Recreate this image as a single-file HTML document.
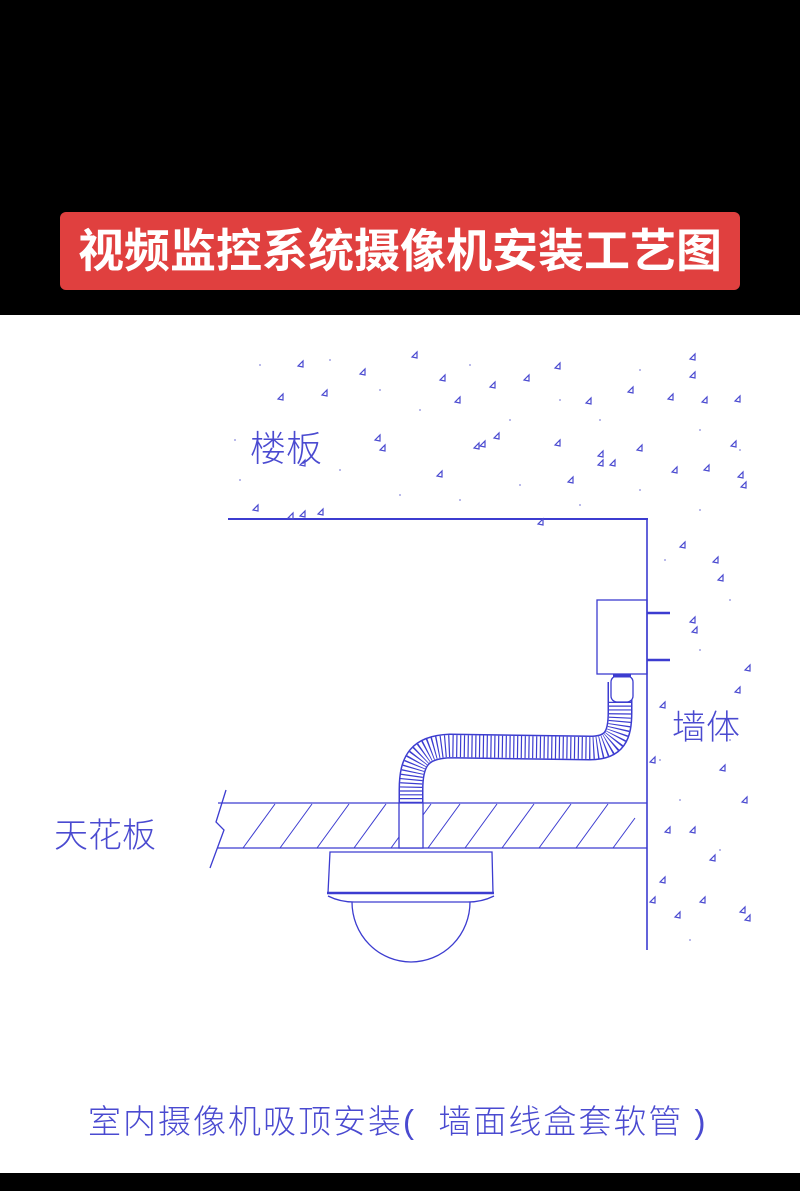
<!DOCTYPE html>
<html><head><meta charset="utf-8">
<style>
html,body{margin:0;padding:0;background:#000;}
#w{position:relative;width:800px;height:1191px;background:#000;overflow:hidden;font-family:"Liberation Sans","Noto Sans CJK SC",sans-serif;}
#ban{position:absolute;left:60px;top:212px;width:680px;height:78px;background:#e0403f;border-radius:6px;color:#fff;font-weight:bold;font-size:46px;line-height:78px;text-align:center;letter-spacing:0px;}
#wh{position:absolute;left:0;top:315px;width:800px;height:858px;background:#fff;}
.t{position:absolute;color:#4a4ad0;font-family:"Liberation Sans","Noto Sans CJK SC",sans-serif;font-weight:300;white-space:nowrap;}
</style></head><body><div id="w">
<div id="ban">视频监控系统摄像机安装工艺图</div>
<div id="wh"></div>
<svg style="position:absolute;left:0;top:0" width="800" height="1191" viewBox="0 0 800 1191">
<defs><path id="tr" d="M0,0 l5,-5 l0,6 z"/></defs>
<g fill="none" stroke="#3c3cd0" stroke-width="1.3">
<line x1="228" y1="519" x2="648" y2="519" stroke-width="2"/>
<line x1="647" y1="519" x2="647" y2="950" stroke-width="1.6"/>
<rect x="597" y="600" width="50" height="74"/>
<line x1="647" y1="613" x2="670" y2="613" stroke-width="2.5"/>
<line x1="647" y1="660" x2="670" y2="660" stroke-width="2.5"/>
<line x1="218" y1="803" x2="647" y2="803"/>
<line x1="218" y1="848" x2="647" y2="848"/>
<path d="M226,790 L216,822 L224,830 L210,868"/>
<g stroke-width="1">
<line x1="243" y1="848" x2="275" y2="804"/><line x1="280" y1="848" x2="312" y2="804"/>
<line x1="317" y1="848" x2="349" y2="804"/><line x1="354" y1="848" x2="386" y2="804"/>
<line x1="391" y1="848" x2="399" y2="837"/><line x1="428" y1="848" x2="460" y2="804"/>
<line x1="465" y1="848" x2="497" y2="804"/><line x1="502" y1="848" x2="534" y2="804"/>
<line x1="539" y1="848" x2="571" y2="804"/><line x1="576" y1="848" x2="608" y2="804"/>
<line x1="613" y1="848" x2="635" y2="818"/><line x1="423" y1="815" x2="431" y2="804"/>
</g>
<rect x="399" y="803" width="24" height="45" fill="#fff"/>
<path d="M411,803 L411,790 C411,760 420,747 450,746 L590,748 C615,748 620,735 620,712 L620,682" stroke-width="25"/>
<path d="M411,803 L411,790 C411,760 420,747 450,746 L590,748 C615,748 620,735 620,712 L620,682" stroke="#fff" stroke-width="22"/>
<path d="M411,803 L411,790 C411,760 420,747 450,746 L590,748 C615,748 620,735 620,712 L620,700" stroke-width="22" stroke-dasharray="1.2 2.6"/>
<rect x="611" y="676" width="22" height="26" rx="6" fill="#fff"/>
<line x1="613" y1="676" x2="631" y2="676" stroke-width="3"/>
<path d="M330,852 L492,852 L493,893 L328,893 Z" fill="#fff"/>
<line x1="327" y1="893" x2="494" y2="893" stroke-width="2.5"/>
<path d="M328,896 Q340,902 354,902 L468,902 Q482,902 494,896"/>
<path d="M352,902 A59,60 0 0 0 470,902"/>
</g>
<g fill="none" stroke="#4a4ad0" stroke-width="1.2">
<use href="#tr" x="298" y="366"/><use href="#tr" x="412" y="357"/><use href="#tr" x="360" y="374"/><use href="#tr" x="440" y="380"/>
<use href="#tr" x="524" y="380"/><use href="#tr" x="490" y="387"/><use href="#tr" x="555" y="368"/><use href="#tr" x="690" y="359"/>
<use href="#tr" x="690" y="377"/><use href="#tr" x="668" y="399"/><use href="#tr" x="702" y="402"/><use href="#tr" x="735" y="401"/>
<use href="#tr" x="278" y="399"/><use href="#tr" x="322" y="395"/><use href="#tr" x="455" y="402"/><use href="#tr" x="586" y="403"/>
<use href="#tr" x="628" y="392"/><use href="#tr" x="375" y="440"/><use href="#tr" x="494" y="438"/><use href="#tr" x="480" y="446"/>
<use href="#tr" x="380" y="450"/><use href="#tr" x="474" y="448"/><use href="#tr" x="555" y="445"/><use href="#tr" x="598" y="456"/>
<use href="#tr" x="637" y="450"/><use href="#tr" x="731" y="446"/><use href="#tr" x="704" y="470"/><use href="#tr" x="672" y="472"/>
<use href="#tr" x="610" y="465"/><use href="#tr" x="568" y="482"/><use href="#tr" x="437" y="476"/><use href="#tr" x="538" y="524"/>
<use href="#tr" x="300" y="516"/><use href="#tr" x="288" y="518"/><use href="#tr" x="253" y="510"/><use href="#tr" x="318" y="514"/>
<use href="#tr" x="738" y="477"/><use href="#tr" x="741" y="487"/><use href="#tr" x="300" y="465"/><use href="#tr" x="598" y="465"/>
<use href="#tr" x="680" y="547"/><use href="#tr" x="713" y="562"/><use href="#tr" x="718" y="580"/><use href="#tr" x="690" y="622"/>
<use href="#tr" x="692" y="632"/><use href="#tr" x="745" y="670"/><use href="#tr" x="660" y="707"/><use href="#tr" x="735" y="692"/>
<use href="#tr" x="650" y="762"/><use href="#tr" x="720" y="770"/><use href="#tr" x="742" y="802"/><use href="#tr" x="665" y="832"/>
<use href="#tr" x="690" y="832"/><use href="#tr" x="660" y="882"/><use href="#tr" x="740" y="912"/><use href="#tr" x="675" y="917"/>
<use href="#tr" x="650" y="902"/><use href="#tr" x="745" y="920"/><use href="#tr" x="700" y="902"/><use href="#tr" x="710" y="860"/>
</g>
<g fill="#8888dd">
<circle cx="260" cy="365" r="0.9"/><circle cx="330" cy="360" r="0.9"/><circle cx="380" cy="390" r="0.9"/><circle cx="420" cy="410" r="0.9"/>
<circle cx="470" cy="365" r="0.9"/><circle cx="510" cy="420" r="0.9"/><circle cx="560" cy="400" r="0.9"/><circle cx="600" cy="420" r="0.9"/>
<circle cx="640" cy="370" r="0.9"/><circle cx="700" cy="430" r="0.9"/><circle cx="740" cy="450" r="0.9"/><circle cx="240" cy="480" r="0.9"/>
<circle cx="340" cy="470" r="0.9"/><circle cx="400" cy="495" r="0.9"/><circle cx="460" cy="500" r="0.9"/><circle cx="520" cy="485" r="0.9"/>
<circle cx="580" cy="505" r="0.9"/><circle cx="640" cy="490" r="0.9"/><circle cx="700" cy="510" r="0.9"/><circle cx="665" cy="560" r="0.9"/>
<circle cx="730" cy="600" r="0.9"/><circle cx="700" cy="650" r="0.9"/><circle cx="660" cy="760" r="0.9"/><circle cx="730" cy="740" r="0.9"/>
<circle cx="680" cy="800" r="0.9"/><circle cx="720" cy="850" r="0.9"/><circle cx="690" cy="940" r="0.9"/><circle cx="235" cy="440" r="0.9"/>
</g>
</svg>
<div class="t" style="left:250px;top:420px;font-size:36px;">楼板</div>
<div class="t" style="left:672px;top:700px;font-size:34px;">墙体</div>
<div class="t" style="left:54px;top:808px;font-size:34px;">天花板</div>
<div class="t" style="left:88px;top:1095px;font-size:33px;letter-spacing:2px;">室内摄像机吸顶安装(&nbsp; 墙面线盒套软管&nbsp;)</div>
</div></body></html>
